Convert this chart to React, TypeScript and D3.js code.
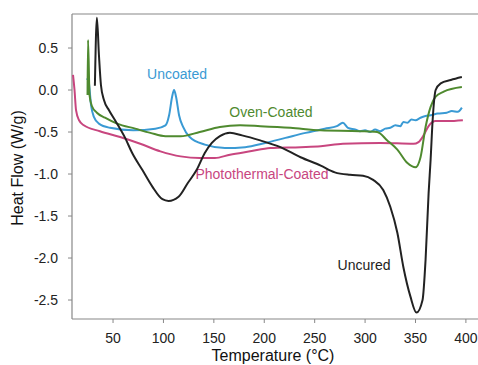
import * as d3 from "d3";

// temperature (°C), heat flow (W/g)
const uncuredT = [32, 34, 36, 38, 41, 46, 52, 62, 69, 79, 89, 99, 105, 115, 124, 133, 141, 148, 156, 166, 178, 196, 216, 236, 256, 270, 285, 298, 308, 318, 325, 332, 338, 345, 351, 357, 360, 363, 365, 367, 370, 375, 385, 396];
const uncuredV = [0.05, 0.86, 0.42, 0.06, -0.12, -0.24, -0.36, -0.57, -0.75, -0.95, -1.15, -1.3, -1.32, -1.27, -1.11, -0.95, -0.75, -0.63, -0.55, -0.51, -0.54, -0.6, -0.68, -0.8, -0.9, -0.98, -1.01, -1.02, -1.07, -1.19, -1.39, -1.7, -2.11, -2.46, -2.65, -2.5, -2.02, -1.23, -0.83, -0.36, 0.0, 0.08, 0.12, 0.155];

const ovenT = [24.7, 25.2, 26.7, 29, 34, 42, 54, 72, 87, 102, 117, 136, 156, 176, 196, 226, 256, 295, 312, 322, 332, 342, 350, 355, 360, 365, 370, 378, 396];
const ovenV = [-0.06, 0.595, -0.06, -0.19, -0.27, -0.33, -0.4, -0.46, -0.51, -0.55, -0.55, -0.5, -0.44, -0.42, -0.43, -0.45, -0.48, -0.49, -0.5, -0.6, -0.71, -0.87, -0.92, -0.8, -0.44, -0.2, -0.08, -0.02, 0.035];

const uncoatedT = [24.2, 25.2, 26.2, 28.2, 31, 36, 47, 70, 92, 102, 105.6, 108.6, 110.5, 112.5, 115.5, 119.5, 126, 141, 161, 181, 201, 221, 241, 260, 272, 278, 283, 290, 295, 300, 305, 310, 315, 320, 325, 330, 335, 338, 342, 346, 350, 355, 360, 365, 372, 381, 386, 392, 396];
const uncoatedV = [0.12, 0.14, 0.07, -0.18, -0.32, -0.4, -0.45, -0.48, -0.46, -0.42, -0.3, -0.08, 0.0, -0.08, -0.3, -0.44, -0.56, -0.65, -0.69, -0.68, -0.63, -0.57, -0.51, -0.46, -0.43, -0.39, -0.45, -0.47, -0.49, -0.48, -0.5, -0.47, -0.49, -0.46, -0.45, -0.42, -0.43, -0.38, -0.39, -0.35, -0.36, -0.33, -0.31, -0.3, -0.28, -0.27, -0.25, -0.26, -0.21];

const photoT = [10.3, 11.8, 13.3, 16.3, 21, 37, 57, 77, 97, 117, 136, 151, 166, 186, 206, 236, 256, 278, 315, 348, 353, 358, 363, 370, 382, 397];
const photoV = [0.18, 0.0, -0.24, -0.36, -0.42, -0.49, -0.56, -0.64, -0.73, -0.79, -0.81, -0.81, -0.77, -0.73, -0.69, -0.68, -0.67, -0.64, -0.63, -0.64, -0.62, -0.54, -0.43, -0.37, -0.37, -0.36];

const xTicks = [50, 100, 150, 200, 250, 300, 350, 400];
const yTicks = [0.5, 0.0, -0.5, -1.0, -1.5, -2.0, -2.5];

const series = [
  { name: "Photothermal-Coated", t: photoT, v: photoV, color: "#c8467f", lx: 262, ly: 179 },
  { name: "Uncoated", t: uncoatedT, v: uncoatedV, color: "#3a9ad4", lx: 177, ly: 79 },
  { name: "Oven-Coated", t: ovenT, v: ovenV, color: "#4f8a2f", lx: 271, ly: 117 },
  { name: "Uncured", t: uncuredT, v: uncuredV, color: "#222222", lx: 364, ly: 270 },
];

const W = 478;
const H = 365;
const left = 72;
const top = 14;
const bottom = 319;

export default function App() {
  const x = d3.scaleLinear().domain([9.3, 412]).range([left, W]);
  const y = d3.scaleLinear().domain([0.905, -2.726]).range([top, bottom]);
  const font = "'Liberation Sans', Arial, sans-serif";

  return (
    <svg
      width={W}
      height={H}
      style={{ position: "absolute", left: 0, top: 0, background: "#fff" }}
      fontFamily={font}
    >
      {/* frame */}
      <line x1={left} x2={W} y1={top} y2={top} stroke="#888" strokeWidth={1.2} />
      <line x1={left} x2={left} y1={top} y2={bottom} stroke="#888" strokeWidth={1.2} />
      <line x1={left} x2={W} y1={bottom} y2={bottom} stroke="#888" strokeWidth={1.2} />

      {yTicks.map((t) => (
        <g key={t}>
          <line x1={left - 4} x2={left} y1={y(t)} y2={y(t)} stroke="#888" />
          <text x={58} y={y(t) + 5} textAnchor="end" fontSize={14} fill="#222">
            {t.toFixed(1)}
          </text>
        </g>
      ))}
      {xTicks.map((t) => (
        <g key={t}>
          <line x1={x(t)} x2={x(t)} y1={bottom} y2={bottom + 4} stroke="#888" />
          <text x={x(t)} y={343} textAnchor="middle" fontSize={14} fill="#222">
            {t}
          </text>
        </g>
      ))}

      <text x={273} y={361} textAnchor="middle" fontSize={16} fill="#111">
        Temperature (°C)
      </text>
      <text
        transform={`translate(23,168) rotate(-90)`}
        textAnchor="middle"
        fontSize={16}
        fill="#111"
      >
        Heat Flow (W/g)
      </text>

      {series.map((s) => {
        const pts = s.t.map((t, i) => [x(t), y(s.v[i])] as [number, number]);
        const path = d3.line().curve(d3.curveMonotoneX)(pts) ?? "";
        return (
          <g key={s.name}>
            <path d={path} fill="none" stroke={s.color} strokeWidth={2} strokeLinejoin="round" />
            <text x={s.lx} y={s.ly} textAnchor="middle" fontSize={14} fill={s.color}>
              {s.name}
            </text>
          </g>
        );
      })}
    </svg>
  );
}
